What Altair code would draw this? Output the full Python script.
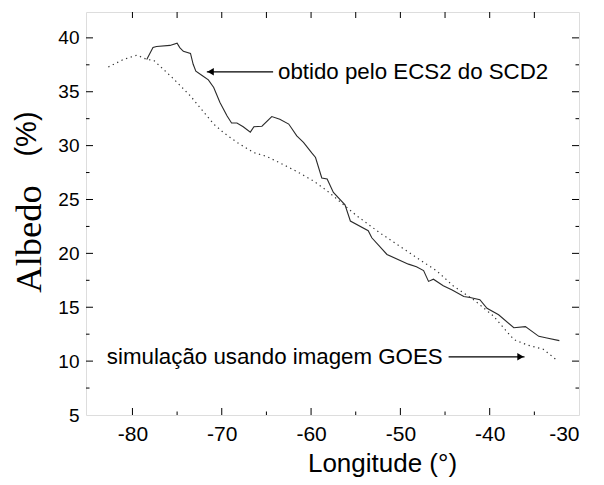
import altair as alt
import pandas as pd

# Solid line: obtido pelo ECS2 do SCD2
ecs_lon = [-78.4, -77.7, -77.3, -75.8, -75.0, -74.7, -74.3, -73.5, -73.2, -72.9, -72.2, -71.5,
           -70.9, -70.2, -69.4, -68.9, -68.3, -67.6, -66.8, -66.4, -65.5, -64.4, -63.5, -62.5,
           -61.6, -60.85, -59.9, -59.5, -58.8, -58.2, -57.5, -56.2, -55.6, -53.6, -53.2, -51.5,
           -49.1, -48.2, -47.4, -46.85, -46.3, -45.2, -44.2, -42.9, -42.2, -41.1, -40.3, -39.0,
           -37.3, -36.0, -34.5, -33.6, -32.2]
ecs_alb = [38.0, 39.1, 39.2, 39.3, 39.5, 39.1, 38.75, 38.55, 37.55, 36.9, 36.5, 36.1,
           35.4, 34.0, 32.75, 32.1, 32.1, 31.75, 31.25, 31.75, 31.8, 32.7, 32.45, 32.0,
           30.9, 30.3, 29.3, 28.9, 27.0, 26.9, 25.65, 24.5, 23.0, 22.1, 21.45, 19.9,
           19.0, 18.75, 18.4, 17.4, 17.6, 17.0, 16.6, 16.0, 15.9, 15.7, 14.9, 14.3,
           13.1, 13.2, 12.3, 12.15, 11.9]

# Dotted line: simulação usando imagem GOES
goes_lon = [-82.7, -81.0, -79.5, -78.4, -77.6, -75.4, -73.5, -72.0, -70.9, -69.8, -68.3, -66.4,
            -65.0, -63.5, -61.6, -59.7, -58.2, -54.9, -52.3, -47.8, -45.9, -44.1, -41.8, -39.6,
            -37.3, -35.8, -34.0, -32.5]
goes_alb = [37.3, 38.0, 38.4, 38.0, 37.9, 36.2, 34.6, 33.1, 32.0, 31.2, 30.3, 29.35,
            29.0, 28.4, 27.6, 26.7, 25.8, 23.5, 21.9, 19.4, 18.35, 17.0, 15.7, 14.2,
            12.0, 11.5, 11.1, 10.1]

x_labels = [-80, -70, -60, -50, -40, -30]
x_minor = [-75, -65, -55, -45, -35]
y_labels = [5, 10, 15, 20, 25, 30, 35, 40]
y_minor = [7.5, 12.5, 17.5, 22.5, 27.5, 32.5, 37.5]

ann_text = ["obtido pelo ECS2 do SCD2", "simulação usando imagem GOES"]
ann_lon = [-63.7, -82.87]
ann_alb = [36.2, 9.77]
arrow_start_lon = [-64.25, -44.6]
arrow_tip_lon = [-71.67, -36.1]
arrow_alb = [36.85, 10.4]
arrow_shape = ["triangle-left", "triangle-right"]
arrow_head_lon = [-71.25, -36.55]

W, H = 493, 403
FONT = "Liberation Sans"
xs = alt.Scale(domain=[-85.2, -30], nice=False, zero=False)
ys = alt.Scale(domain=[5, 42.4], nice=False, zero=False)
xaxis = alt.Axis(
    values=x_labels, ticks=False, domain=False, grid=False, labelPadding=8,
    labelFontSize=21, labelFont=FONT, labelColor="black", labelOverlap=False,
    labelExpr="'' + datum.value",
    title="Longitude (°)", titleFont=FONT, titleFontSize=26, titleFontWeight="normal",
    titleColor="black", titleX=296, titleY=56, titleAlign="center",
    titleBaseline="alphabetic")
yaxis = alt.Axis(
    values=y_labels, ticks=False, domain=False, grid=False, labelPadding=7,
    labelFontSize=19, labelFont=FONT, labelColor="black", title="")


def X(f):
    return alt.X(f, scale=xs, axis=xaxis)


def Y(f):
    return alt.Y(f, scale=ys, axis=yaxis)


df_ecs = pd.DataFrame({"lon": ecs_lon, "alb": ecs_alb})
df_goes = pd.DataFrame({"lon": goes_lon, "alb": goes_alb})

solid = alt.Chart(df_ecs).mark_line(color="#2a2a2a", strokeWidth=1.1, clip=True).encode(
    x=X("lon:Q"), y=Y("alb:Q"), order="lon:Q")

dotted = alt.Chart(df_goes).mark_line(color="#333333", strokeWidth=1.2,
                                      strokeDash=[1.3, 3.6], clip=True).encode(
    x=X("lon:Q"), y=Y("alb:Q"), order="lon:Q")


def xticks(vals, y0, y1):
    return alt.Chart(pd.DataFrame({"v": vals})).mark_rule(color="black", strokeWidth=1).encode(
        x=X("v:Q"), y=alt.value(y0), y2=alt.value(y1))


def yticks(vals, x0, x1):
    return alt.Chart(pd.DataFrame({"v": vals})).mark_rule(color="black", strokeWidth=1).encode(
        y=Y("v:Q"), x=alt.value(x0), x2=alt.value(x1))


ticks = [
    xticks(x_labels[:-1], H, H - 7),
    xticks(x_minor, H, H - 3.5),
    xticks(x_labels[:-1] + x_minor, 0, 6),
    yticks(y_labels[1:], 0, 7),
    yticks(y_minor, 0, 3.5),
    yticks(y_labels[1:], W, W - 7),
    yticks(y_minor, W, W - 3.5),
]

df_ann = pd.DataFrame({"t": ann_text, "lon": ann_lon, "alb": ann_alb})
ann = alt.Chart(df_ann).mark_text(align="left", baseline="alphabetic", font=FONT,
                                  fontSize=22.3, color="black").encode(
    x=X("lon:Q"), y=Y("alb:Q"), text="t:N")

df_arrow = pd.DataFrame({"a": arrow_start_lon, "b": arrow_tip_lon, "alb": arrow_alb,
                         "h": arrow_head_lon, "s": arrow_shape})
arrow_line = alt.Chart(df_arrow).mark_rule(color="black", strokeWidth=1.2).encode(
    x=X("a:Q"), x2="b:Q", y=Y("alb:Q"))
arrow_head = alt.Chart(df_arrow).mark_point(filled=True, color="black", size=55, opacity=1).encode(
    x=X("h:Q"), y=Y("alb:Q"), shape=alt.Shape("s:N", scale=None))

ytitle1 = alt.Chart(pd.DataFrame({"t": ["Albedo"]})).mark_text(
    angle=270, align="center", baseline="alphabetic", font="Liberation Serif", fontSize=36.5,
    color="black").encode(x=alt.value(-45), y=alt.value(227), text="t:N")
ytitle2 = alt.Chart(pd.DataFrame({"t": ["(%)"]})).mark_text(
    angle=270, align="center", baseline="alphabetic", font=FONT, fontSize=29,
    color="black").encode(x=alt.value(-50), y=alt.value(122), text="t:N")

chart = alt.layer(solid, dotted, *ticks, ann, arrow_line, arrow_head, ytitle1, ytitle2).properties(
    width=W, height=H,
    autosize=alt.AutoSizeParams(type="none"),
    padding={"left": 78, "top": 4, "right": 17, "bottom": 62},
).configure_view(stroke="black", strokeWidth=1.2).configure(background="white")

chart.save("out.html", embed_options={"renderer": "svg", "actions": False})
